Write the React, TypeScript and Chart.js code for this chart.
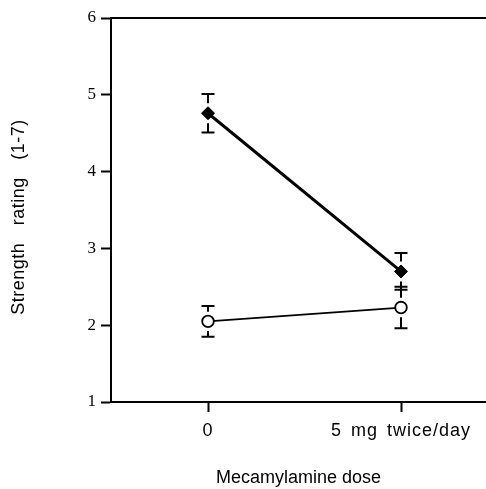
import React, { useEffect, useRef } from 'react';
import { Chart, registerables } from 'chart.js';

Chart.register(...registerables);

// ---- data ----
const doseLabels = ['0', '5 mg twice/day'];
const doseX = [0, 1];
const filledMeans = [4.76, 2.7];
const filledErr = [0.25, 0.24];
const openMeans = [2.05, 2.23];
const openErr = [0.2, 0.27];
const yTicks = [1, 2, 3, 4, 5, 6];

const SANS = '"Liberation Sans", Arial, Helvetica, sans-serif';
const SERIF = '"Liberation Serif", "Times New Roman", serif';

export default function App() {
  const ref = useRef<HTMLCanvasElement>(null);

  useEffect(() => {
    if (!ref.current) return;

    const errorBars = {
      id: 'errorBars',
      afterDatasetsDraw(chart: any) {
        const { ctx } = chart;
        const xs = chart.scales.x;
        const ys = chart.scales.y;
        const sets = [
          { means: filledMeans, errs: filledErr, r: 7 },
          { means: openMeans, errs: openErr, r: 6.7 },
        ];
        ctx.save();
        ctx.strokeStyle = '#000';
        ctx.lineWidth = 2;
        sets.forEach((s) =>
          s.means.forEach((m, i) => {
            const x = xs.getPixelForValue(doseX[i]);
            const yc = ys.getPixelForValue(m);
            const yt = ys.getPixelForValue(m + s.errs[i]);
            const yb = ys.getPixelForValue(m - s.errs[i]);
            const gap = s.r + 3;
            const hw = 6.5;
            ctx.beginPath();
            if (yc - gap > yt) {
              ctx.moveTo(x, yt);
              ctx.lineTo(x, yc - gap);
            }
            if (yc + gap < yb) {
              ctx.moveTo(x, yb);
              ctx.lineTo(x, yc + gap);
            }
            ctx.moveTo(x - hw, yt);
            ctx.lineTo(x + hw, yt);
            ctx.moveTo(x - hw, yb);
            ctx.lineTo(x + hw, yb);
            ctx.stroke();
          })
        );
        ctx.restore();
      },
    };

    const frame = {
      id: 'frame',
      beforeDraw(chart: any) {
        const xs: any = chart.scales.x;
        const ys: any = chart.scales.y;
        if (xs && !xs._spacedPatch) {
          const orig = xs.drawLabels;
          xs.drawLabels = function (area: any) {
            const c = this.ctx;
            c.save();
            c.letterSpacing = '1px';
            c.wordSpacing = '3px';
            orig.call(this, area);
            c.restore();
          };
          xs._spacedPatch = true;
        }
        if (ys && !ys._spacedPatch) {
          const origT = ys.drawTitle;
          ys.drawTitle = function () {
            const c = this.ctx;
            c.save();
            c.translate(0, 7);
            c.letterSpacing = '0.5px';
            c.wordSpacing = '12px';
            origT.call(this);
            c.restore();
          };
          ys._spacedPatch = true;
        }
      },
      beforeDatasetsDraw(chart: any) {
        const { ctx, chartArea } = chart;
        ctx.save();
        ctx.strokeStyle = '#000';
        ctx.lineWidth = 2;
        ctx.beginPath();
        ctx.moveTo(chartArea.left, chartArea.top);
        ctx.lineTo(chartArea.right, chartArea.top);
        ctx.stroke();
        ctx.restore();
      },
    };

    const chart = new Chart(ref.current, {
      type: 'line',
      data: {
        datasets: [
          {
            data: doseX.map((x, i) => ({ x, y: filledMeans[i] })),
            borderColor: '#000',
            borderWidth: 3,
            pointStyle: 'rectRot',
            pointRadius: 6.5,
            pointBackgroundColor: '#000',
            pointBorderColor: '#000',
            pointBorderWidth: 1,
            fill: false,
            tension: 0,
          },
          {
            data: doseX.map((x, i) => ({ x, y: openMeans[i] })),
            borderColor: '#000',
            borderWidth: 1.8,
            pointStyle: 'circle',
            pointRadius: 5.8,
            pointBackgroundColor: '#fff',
            pointBorderColor: '#000',
            pointBorderWidth: 1.8,
            fill: false,
            tension: 0,
          },
        ],
      },
      options: {
        animation: false,
        responsive: true,
        maintainAspectRatio: false,
        layout: { autoPadding: false, padding: { top: 18, left: 0, right: 0, bottom: 0 } },
        plugins: { legend: { display: false }, tooltip: { enabled: false } },
        scales: {
          x: {
            type: 'linear',
            min: -0.5026,
            max: 1.4404,
            afterBuildTicks: (s: any) => {
              s.ticks = doseX.map((v) => ({ value: v }));
            },
            afterFit: (s: any) => {
              s.height = 87;
              s.paddingLeft = 0;
              s.paddingRight = 0;
            },
            grid: {
              drawOnChartArea: false,
              drawTicks: true,
              tickLength: 10,
              tickWidth: 2,
              tickColor: '#000',
            },
            border: { display: true, color: '#000', width: 2 },
            ticks: {
              color: '#000',
              padding: 8,
              maxRotation: 0,
              autoSkip: false,
              font: { family: SANS, size: 18 },
              callback: (v: any) => {
                const i = doseX.indexOf(Number(v));
                return i >= 0 ? doseLabels[i] : '';
              },
            },
            title: {
              display: true,
              text: 'Mecamylamine dose',
              color: '#000',
              font: { family: SANS, size: 18 },
              padding: { top: 0, bottom: 0 },
            },
          },
          y: {
            min: 1,
            max: 6,
            afterBuildTicks: (s: any) => {
              s.ticks = yTicks.map((v) => ({ value: v }));
            },
            afterFit: (s: any) => {
              s.width = 111;
              s.paddingTop = 0;
              s.paddingBottom = 0;
            },
            grid: {
              drawOnChartArea: false,
              drawTicks: true,
              tickLength: 10,
              tickWidth: 2,
              tickColor: '#000',
            },
            border: { display: true, color: '#000', width: 2 },
            ticks: {
              color: '#000',
              padding: 5,
              font: { family: SERIF, size: 17 },
            },
            title: {
              display: true,
              text: 'Strength rating (1-7)',
              color: '#000',
              font: { family: SANS, size: 18 },
              padding: { top: 8, bottom: 0 },
            },
          },
        },
      },
      plugins: [errorBars, frame],
    } as any);

    return () => chart.destroy();
  }, []);

  return (
    <div style={{ position: 'absolute', left: 0, top: 0, width: 486, height: 489 }}>
      <canvas ref={ref} style={{ display: 'block' }} />
    </div>
  );
}
